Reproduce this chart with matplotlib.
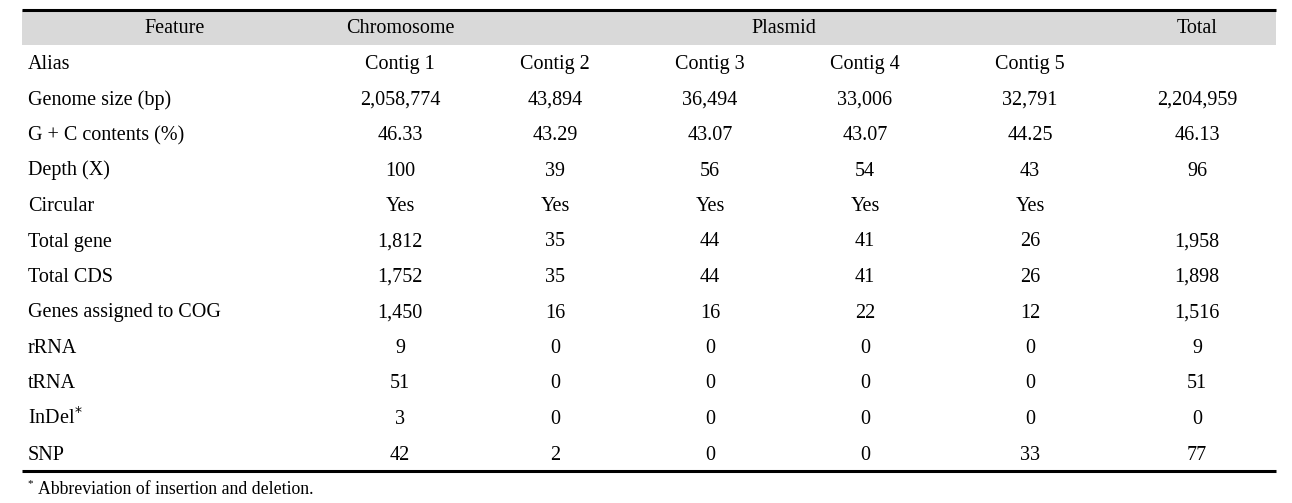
import matplotlib.pyplot as plt
from matplotlib.patches import Rectangle

plt.rcParams["font.family"] = ["Liberation Serif", "DejaVu Serif"]

headers = ["Feature", "Chromosome", "Plasmid", "Total"]
aliases = ["Contig 1", "Contig 2", "Contig 3", "Contig 4", "Contig 5", ""]
row_labels = [
    "Genome size (bp)", "G + C contents (%)", "Depth (X)", "Circular",
    "Total gene", "Total CDS", "Genes assigned to COG", "rRNA", "tRNA",
    "InDel$^{*}$", "SNP",
]
contig1 = ["2,058,774", "46.33", "100", "Yes", "1,812", "1,752", "1,450", "9", "51", "3", "42"]
contig2 = ["43,894", "43.29", "39", "Yes", "35", "35", "16", "0", "0", "0", "2"]
contig3 = ["36,494", "43.07", "56", "Yes", "44", "44", "16", "0", "0", "0", "0"]
contig4 = ["33,006", "43.07", "54", "Yes", "41", "41", "22", "0", "0", "0", "0"]
contig5 = ["32,791", "44.25", "43", "Yes", "26", "26", "12", "0", "0", "0", "33"]
total = ["2,204,959", "46.13", "96", "", "1,958", "1,898", "1,516", "9", "51", "0", "77"]
footnote = "Abbreviation of insertion and deletion."

W, H = 1292, 503
fig = plt.figure(figsize=(W / 100, H / 100), dpi=100)
ax = fig.add_axes([0, 0, 1, 1])
ax.set_xlim(0, W)
ax.set_ylim(H, 0)
ax.axis("off")

fs = 14.5
x_left, x_right = 22, 1276
label_x = 28
col_x = [400, 555, 710, 865, 1030, 1197]
base = 5.5  # offset from row centre to text baseline

# header band and rules
ax.add_patch(Rectangle((x_left, 10), x_right - x_left, 35, color="#d9d9d9", lw=0))
ax.plot([x_left, x_right], [9.5, 9.5], color="black", lw=2.2, solid_capstyle="butt")
ax.plot([x_left, x_right], [470.5, 470.5], color="black", lw=2.2, solid_capstyle="butt")

header_x = [175, 400, 784, 1197]
for x, txt in zip(header_x, headers):
    ax.text(x, 27.5 + base, txt, ha="center", va="baseline", fontsize=fs)

row_y0, row_step = 63.5, 35.5
ax.text(label_x, row_y0 + base, "Alias", ha="left", va="baseline", fontsize=fs)
for x, txt in zip(col_x, aliases):
    ax.text(x, row_y0 + base, txt, ha="center", va="baseline", fontsize=fs)

columns = [contig1, contig2, contig3, contig4, contig5, total]
for i, label in enumerate(row_labels):
    y = row_y0 + (i + 1) * row_step + base
    ax.text(label_x, y, label, ha="left", va="baseline", fontsize=fs)
    for x, col in zip(col_x, columns):
        ax.text(x, y, col[i], ha="center", va="baseline", fontsize=fs)

ax.text(27, 484, "*", ha="left", va="center", fontsize=8)
ax.text(38, 489, footnote, ha="left", va="center", fontsize=12.8)

fig.savefig("out.png", dpi=100)
